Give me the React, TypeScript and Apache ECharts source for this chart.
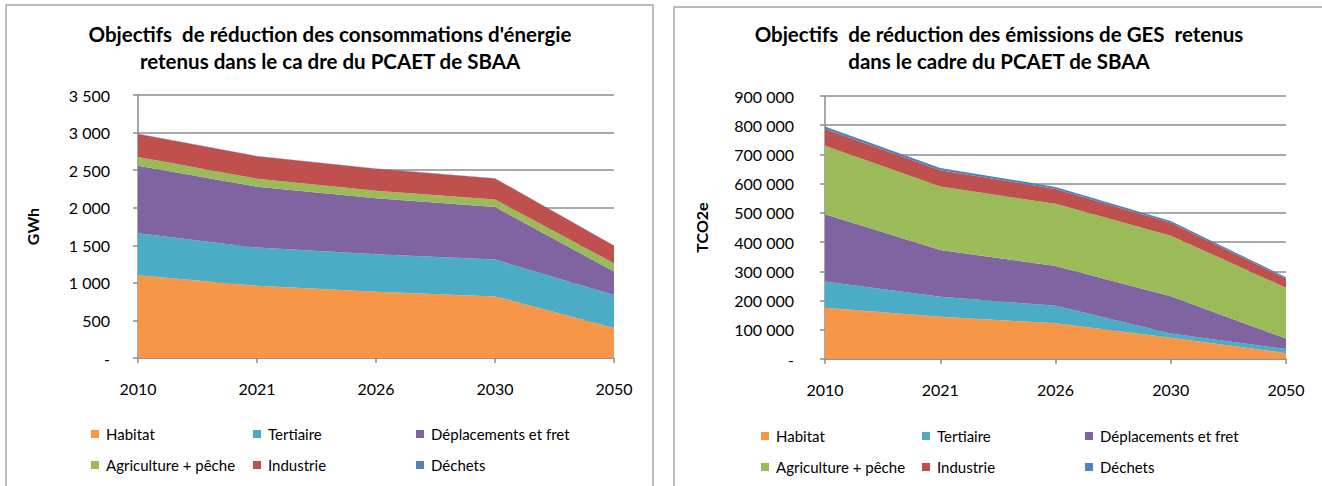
import React, { useEffect, useRef } from "react";
import * as echarts from "echarts";

const years = ["2010", "2021", "2026", "2030", "2050"];
const seriesNames = ["Habitat", "Tertiaire", "Déplacements et fret", "Agriculture + pêche", "Industrie", "Déchets"];
const seriesColors = ["#F79646", "#4BACC6", "#8064A2", "#9BBB59", "#C0504D", "#4F81BD"];

// Énergie (GWh)
const energyHabitat = [1100, 960, 880, 820, 400];
const energyTertiaire = [560, 510, 500, 490, 440];
const energyDeplacements = [900, 810, 745, 700, 310];
const energyAgriculture = [115, 105, 100, 100, 110];
const energyIndustrie = [305, 300, 295, 280, 235];
const energyDechets = [3, 3, 3, 3, 3];

// GES (TCO2e)
const gesHabitat = [175000, 145000, 122000, 73000, 20000];
const gesTertiaire = [90000, 68000, 60000, 14000, 14000];
const gesDeplacements = [230000, 160000, 136000, 128000, 36000];
const gesAgriculture = [235000, 217000, 213000, 207000, 174000];
const gesIndustrie = [57000, 56000, 51000, 44000, 31000];
const gesDechets = [9000, 8000, 7000, 6000, 5000];

const energyTitle = "Objectifs  de réduction des consommations d'énergie\nretenus dans le ca dre du PCAET de SBAA";
const gesTitle = "Objectifs  de réduction des émissions de GES  retenus\ndans le cadre du PCAET de SBAA";

const FONT = "Lato";

function fmt(v: number) {
  if (v === 0) return "-";
  return String(v).replace(/\B(?=(\d{3})+(?!\d))/g, " ");
}

export default function App() {
  const ref = useRef<HTMLDivElement>(null);
  useEffect(() => {
    if (!ref.current) return;
    const chart = echarts.init(ref.current, null, { renderer: "svg" });
    const energyData = [energyHabitat, energyTertiaire, energyDeplacements, energyAgriculture, energyIndustrie, energyDechets];
    const gesData = [gesHabitat, gesTertiaire, gesDeplacements, gesAgriculture, gesIndustrie, gesDechets];

    const grids = [
      { left: 138, top: 95, width: 476, height: 263 },
      { left: 825, top: 96, width: 461, height: 263 },
    ];

    const axisCommon = {
      axisLine: { show: true, lineStyle: { color: "#8c8c8c", width: 1.5 } },
      axisTick: { show: true, inside: false, length: 5, lineStyle: { color: "#8c8c8c", width: 1.5 } },
    };

    const xAxes = [0, 1].map((i) => ({
      type: "category",
      gridIndex: i,
      data: years,
      boundaryGap: false,
      ...axisCommon,
      axisLabel: { color: "#000", fontFamily: FONT, fontSize: 16, margin: 22 },
      splitLine: { show: false },
    }));

    const yAxes = [
      {
        type: "value",
        gridIndex: 0,
        min: 0,
        max: 3500,
        interval: 500,
        name: "GWh",
        nameLocation: "middle",
        nameGap: 98,
        nameTextStyle: { color: "#000", fontFamily: FONT, fontWeight: "bold", fontSize: 16 },
        ...axisCommon,
        axisLabel: { color: "#000", fontFamily: FONT, fontSize: 16, margin: 28, formatter: fmt },
        splitLine: { show: true, lineStyle: { color: "#8c8c8c", width: 1.5 } },
      },
      {
        type: "value",
        gridIndex: 1,
        min: 0,
        max: 900000,
        interval: 100000,
        name: "TCO2e",
        nameLocation: "middle",
        nameGap: 116,
        nameTextStyle: { color: "#000", fontFamily: FONT, fontWeight: "bold", fontSize: 16 },
        ...axisCommon,
        axisLabel: { color: "#000", fontFamily: FONT, fontSize: 16, margin: 31, formatter: fmt },
        splitLine: { show: true, lineStyle: { color: "#8c8c8c", width: 1.5 } },
      },
    ];

    const series: any[] = [];
    [energyData, gesData].forEach((dataset, gi) => {
      dataset.forEach((d, si) => {
        series.push({
          type: "line",
          name: seriesNames[si],
          xAxisIndex: gi,
          yAxisIndex: gi,
          stack: "s" + gi,
          data: d,
          showSymbol: false,
          symbol: "none",
          lineStyle: { width: 0 },
          areaStyle: { color: seriesColors[si], opacity: 1 },
          itemStyle: { color: seriesColors[si] },
          emphasis: { disabled: true },
        });
      });
    });

    const legendPos = [
      { cols: [91, 253, 416], rows: [434, 465] },
      { cols: [761, 922, 1085], rows: [436, 467] },
    ];
    const legends: any[] = [];
    legendPos.forEach((lp) => {
      seriesNames.forEach((name, i) => {
        const c = i % 3;
        const r = Math.floor(i / 3);
        legends.push({
          data: [name],
          left: lp.cols[c],
          top: lp.rows[r] - 10,
          padding: 0,
          itemWidth: 8,
          itemHeight: 8,
          icon: "rect",
          selectedMode: false,
          textStyle: { color: "#000", fontFamily: FONT, fontSize: 15, lineHeight: 20, padding: [0, 0, 0, 2] },
        });
      });
    });

    const titleStyle = { fontFamily: FONT, fontWeight: "bold", fontSize: 20.5, lineHeight: 27, color: "#000" };

    chart.setOption({
      animation: false,
      backgroundColor: "#ffffff",
      grid: grids,
      xAxis: xAxes,
      yAxis: yAxes,
      series,
      legend: legends,
      title: [
        { text: energyTitle, left: 330, top: 20, padding: 0, textAlign: "center", textStyle: titleStyle },
        { text: gesTitle, left: 999, top: 20, padding: 0, textAlign: "center", textStyle: titleStyle },
      ],
      graphic: [
        {
          type: "rect",
          shape: { x: 6, y: 5, width: 647, height: 500 },
          style: { fill: "none", stroke: "#a6a6a6", lineWidth: 1.5 },
          silent: true,
        },
        {
          type: "rect",
          shape: { x: 674, y: 7, width: 660, height: 500 },
          style: { fill: "none", stroke: "#a6a6a6", lineWidth: 1.5 },
          silent: true,
        },
      ],
    });
    return () => chart.dispose();
  }, []);
  return <div ref={ref} style={{ position: "fixed", left: 0, top: 0, width: 1322, height: 486 }} />;
}
